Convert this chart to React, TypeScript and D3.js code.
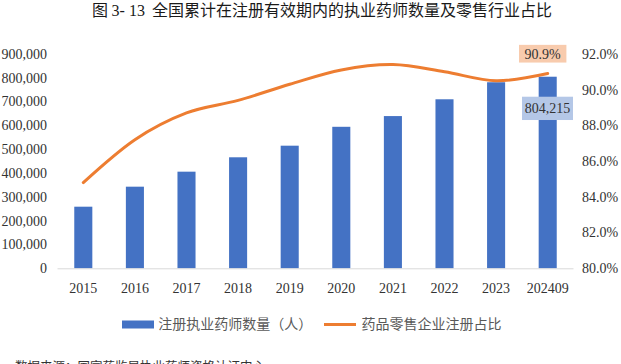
import React from "react";
import * as d3 from "d3";

const categories = ["2015", "2016", "2017", "2018", "2019", "2020", "2021", "2022", "2023", "202409"];
const pharmacists = [258600, 342600, 405600, 466000, 514700, 594000, 639000, 709500, 781000, 804215];
const retailShare = [84.8, 87.2, 88.7, 89.4, 90.3, 91.1, 91.4, 91.0, 90.5, 90.9];
const leftTicks = [0, 100000, 200000, 300000, 400000, 500000, 600000, 700000, 800000, 900000];
const rightTicks = [80, 82, 84, 86, 88, 90, 92];
const seriesNames = ["注册执业药师数量（人）", "药品零售企业注册占比"];
const titleParts = ["图 ", "3- 13", "  全国累计在注册有效期内的执业药师数量及零售行业占比"];
const sourceText = "数据来源：国家药监局执业药师资格认证中心";

const W = 621;
const H = 364;
const plotLeft = 57.5;
const plotRight = 573.5;
const plotTop = 53.9;
const plotBottom = 268.3;

const BLUE = "#4472C4";
const ORANGE = "#ED7D31";
const SERIF = "'Liberation Serif', 'Times New Roman', serif";
const CJK = "'Noto Sans CJK SC', 'Noto Sans', sans-serif";

export default function App() {
  const x = d3.scaleBand<string>().domain(categories).range([plotLeft, plotRight]).paddingInner(0.65).paddingOuter(0.325);
  const yL = d3.scaleLinear().domain([0, 900000]).range([plotBottom, plotTop]);
  const yR = d3.scaleLinear().domain([80, 92]).range([plotBottom, plotTop]);
  const cx = (c: string) => (x(c) as number) + x.bandwidth() / 2;

  const line = d3
    .line<number>()
    .x((_, i) => cx(categories[i]))
    .y((d) => yR(d))
    .curve(d3.curveCatmullRom.alpha(0));

  const fmtL = d3.format(",");
  const fmtR = (v: number) => v.toFixed(1) + "%";

  const lastI = categories.length - 1;
  const lastX = cx(categories[lastI]);
  const lastLineY = yR(retailShare[lastI]);
  const lastBarY = yL(pharmacists[lastI]);

  const pctLabel = fmtR(retailShare[lastI]);
  const barLabel = fmtL(pharmacists[lastI]);

  return (
    <svg width={W} height={H} style={{ position: "absolute", left: 0, top: 0, background: "#fff" }}>
      <text x={92} y={15.5} fontSize={16} fill="#1a1a1a" fontFamily={CJK}>
        <tspan fontFamily={CJK}>{titleParts[0]}</tspan>
        <tspan fontFamily={SERIF}>{titleParts[1]}</tspan>
        <tspan fontFamily={CJK} style={{ whiteSpace: "pre" }}>{titleParts[2]}</tspan>
      </text>

      {/* bars */}
      {pharmacists.map((v, i) => (
        <rect
          key={categories[i]}
          x={x(categories[i])}
          y={yL(v)}
          width={x.bandwidth()}
          height={plotBottom - yL(v)}
          fill={BLUE}
        />
      ))}

      {/* baseline */}
      <line x1={plotLeft} x2={plotRight} y1={plotBottom + 0.5} y2={plotBottom + 0.5} stroke="#D9D9D9" strokeWidth={1} />

      {/* line */}
      <path d={line(retailShare) || ""} fill="none" stroke={ORANGE} strokeWidth={3} strokeLinecap="round" />

      {/* left ticks */}
      {leftTicks.map((t) => (
        <text key={t} x={47} y={yL(t)} dy="0.35em" textAnchor="end" fontSize={14} fontFamily={SERIF} fill="#333">
          {fmtL(t)}
        </text>
      ))}

      {/* right ticks */}
      {rightTicks.map((t) => (
        <text key={t} x={582} y={yR(t)} dy="0.35em" textAnchor="start" fontSize={14} fontFamily={SERIF} fill="#333">
          {fmtR(t)}
        </text>
      ))}

      {/* x labels */}
      {categories.map((c) => (
        <text key={c} x={cx(c)} y={293} textAnchor="middle" fontSize={14} fontFamily={SERIF} fill="#333">
          {c}
        </text>
      ))}

      {/* data labels */}
      <rect x={lastX - 28.7} y={lastLineY - 28.7} width={47.4} height={17.7} fill="#F8CBAD" />
      <text x={lastX - 5} y={lastLineY - 19.9} dy="0.35em" textAnchor="middle" fontSize={14} fontFamily={SERIF} fill="#333">
        {pctLabel}
      </text>
      <rect x={lastX - 25.7} y={lastBarY + 20} width={51} height={23.3} fill="#B4C7E7" />
      <text x={lastX - 0.2} y={lastBarY + 31.6} dy="0.35em" textAnchor="middle" fontSize={14} fontFamily={SERIF} fill="#333">
        {barLabel}
      </text>

      {/* legend */}
      <rect x={122} y={320.5} width={32} height={8} fill={BLUE} />
      <text x={158.3} y={324.5} dy="0.35em" fontSize={14} fontFamily={CJK} fill="#595959">
        {seriesNames[0]}
      </text>
      <line x1={324} x2={356} y1={324.5} y2={324.5} stroke={ORANGE} strokeWidth={3} />
      <text x={361.5} y={324.5} dy="0.35em" fontSize={14} fontFamily={CJK} fill="#595959">
        {seriesNames[1]}
      </text>

      {/* source (cut off at the bottom edge, as in the reference) */}
      <text x={15} y={370.5} fontSize={12.5} fontFamily={CJK} fill="#333">
        {sourceText}
      </text>
    </svg>
  );
}
